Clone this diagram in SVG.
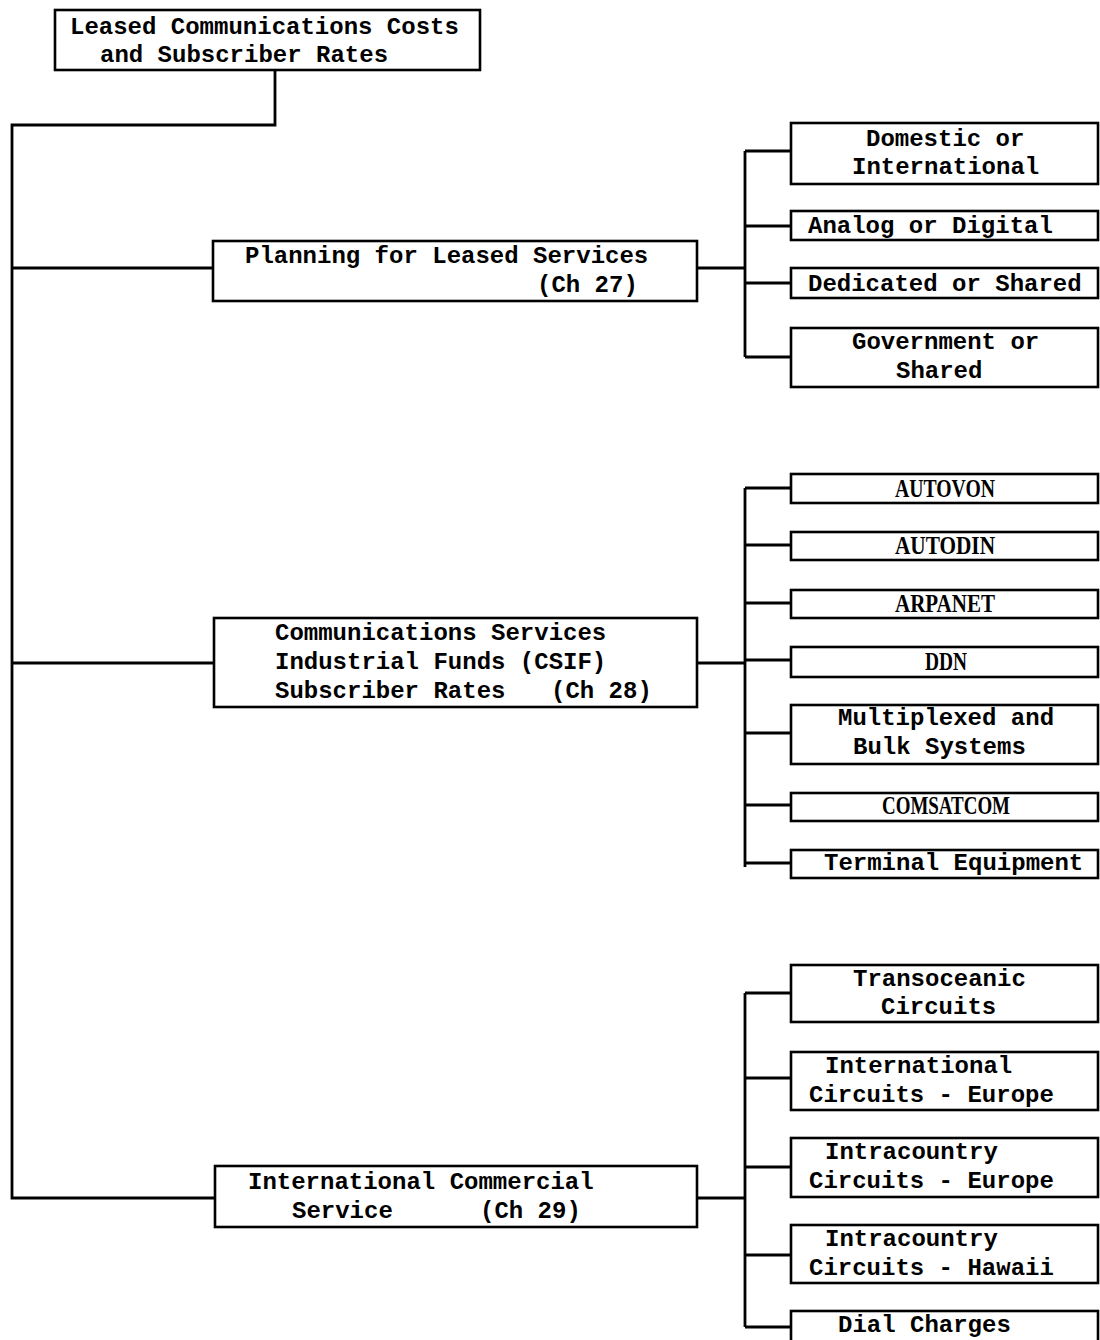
<svg xmlns="http://www.w3.org/2000/svg" width="1100" height="1340" viewBox="0 0 1100 1340">
<style>
rect{fill:#fff;stroke:#000;stroke-width:2.6}
.c{fill:none;stroke:#000;stroke-width:2.8}
text{font-family:"Liberation Mono","Courier New",monospace;font-weight:bold;font-size:24px;fill:#000}
text.k{font-family:"Liberation Serif","Times New Roman",serif;font-size:25px;text-anchor:middle}
</style>
<rect x="0" y="0" width="1100" height="1340" style="stroke:none"/>
<g id="connectors">
<path class="c" d="M275 70V125H12V1198H215M12 268H213M12 663H214"/>
<path class="c" d="M697 268H745M745 151V357M745 151H791M745 226H791M745 283H791M745 357H791"/>
<path class="c" d="M697 663H745M745 488V867M745 488H791M745 545H791M745 603H791M745 660H791M745 733H791M745 805H791M745 863H791"/>
<path class="c" d="M697 1198H745M745 993V1327M745 993H791M745 1078H791M745 1167H791M745 1255H791M745 1327H791"/>
</g>
<g id="root"><rect x="55" y="10" width="425" height="60"/><text x="70" y="34">Leased Communications Costs</text><text x="100" y="62">and Subscriber Rates</text></g>
<g id="ch27"><rect x="213" y="241" width="484" height="60"/><text x="245" y="263">Planning for Leased Services</text><text x="537" y="292">(Ch 27)</text></g>
<g id="ch28"><rect x="214" y="618" width="483" height="89"/><text x="275" y="640">Communications Services</text><text x="275" y="669">Industrial Funds (CSIF)</text><text y="698"><tspan x="275">Subscriber Rates</tspan><tspan x="551">(Ch 28)</tspan></text></g>
<g id="ch29"><rect x="215" y="1166" width="482" height="61"/><text x="248" y="1189">International Commercial</text><text y="1218"><tspan x="292">Service</tspan><tspan x="480">(Ch 29)</tspan></text></g>
<g id="domestic"><rect x="791" y="123" width="307" height="61"/><text x="866" y="146">Domestic or</text><text x="852" y="174">International</text></g>
<g id="analog"><rect x="791" y="211" width="307" height="29"/><text x="808" y="233">Analog or Digital</text></g>
<g id="dedicated"><rect x="791" y="268" width="307" height="30"/><text x="808" y="291">Dedicated or Shared</text></g>
<g id="government"><rect x="791" y="328" width="307" height="59"/><text x="852" y="349">Government or</text><text x="896" y="378">Shared</text></g>
<g id="autovon"><rect x="791" y="474" width="307" height="29"/><text class="k" x="945" y="497" textLength="100" lengthAdjust="spacingAndGlyphs">AUTOVON</text></g>
<g id="autodin"><rect x="791" y="532" width="307" height="28"/><text class="k" x="945" y="554" textLength="100" lengthAdjust="spacingAndGlyphs">AUTODIN</text></g>
<g id="arpanet"><rect x="791" y="590" width="307" height="28"/><text class="k" x="945" y="612" textLength="100" lengthAdjust="spacingAndGlyphs">ARPANET</text></g>
<g id="ddn"><rect x="791" y="647" width="307" height="30"/><text class="k" x="946" y="670" textLength="42" lengthAdjust="spacingAndGlyphs">DDN</text></g>
<g id="multiplexed"><rect x="791" y="705" width="307" height="59"/><text x="838" y="725">Multiplexed and</text><text x="853" y="754">Bulk Systems</text></g>
<g id="comsatcom"><rect x="791" y="793" width="307" height="28"/><text class="k" x="946" y="814" textLength="128" lengthAdjust="spacingAndGlyphs">COMSATCOM</text></g>
<g id="terminal"><rect x="791" y="850" width="307" height="28"/><text x="824" y="870">Terminal Equipment</text></g>
<g id="transoceanic"><rect x="791" y="965" width="307" height="57"/><text x="853" y="986">Transoceanic</text><text x="881" y="1014">Circuits</text></g>
<g id="intl-europe"><rect x="791" y="1052" width="307" height="58"/><text x="825" y="1073">International</text><text x="809" y="1102">Circuits - Europe</text></g>
<g id="intra-europe"><rect x="791" y="1138" width="307" height="59"/><text x="825" y="1159">Intracountry</text><text x="809" y="1188">Circuits - Europe</text></g>
<g id="intra-hawaii"><rect x="791" y="1225" width="307" height="58"/><text x="825" y="1246">Intracountry</text><text x="809" y="1275">Circuits - Hawaii</text></g>
<g id="dial"><rect x="791" y="1311" width="307" height="40"/><text x="838" y="1332">Dial Charges</text></g>
</svg>
